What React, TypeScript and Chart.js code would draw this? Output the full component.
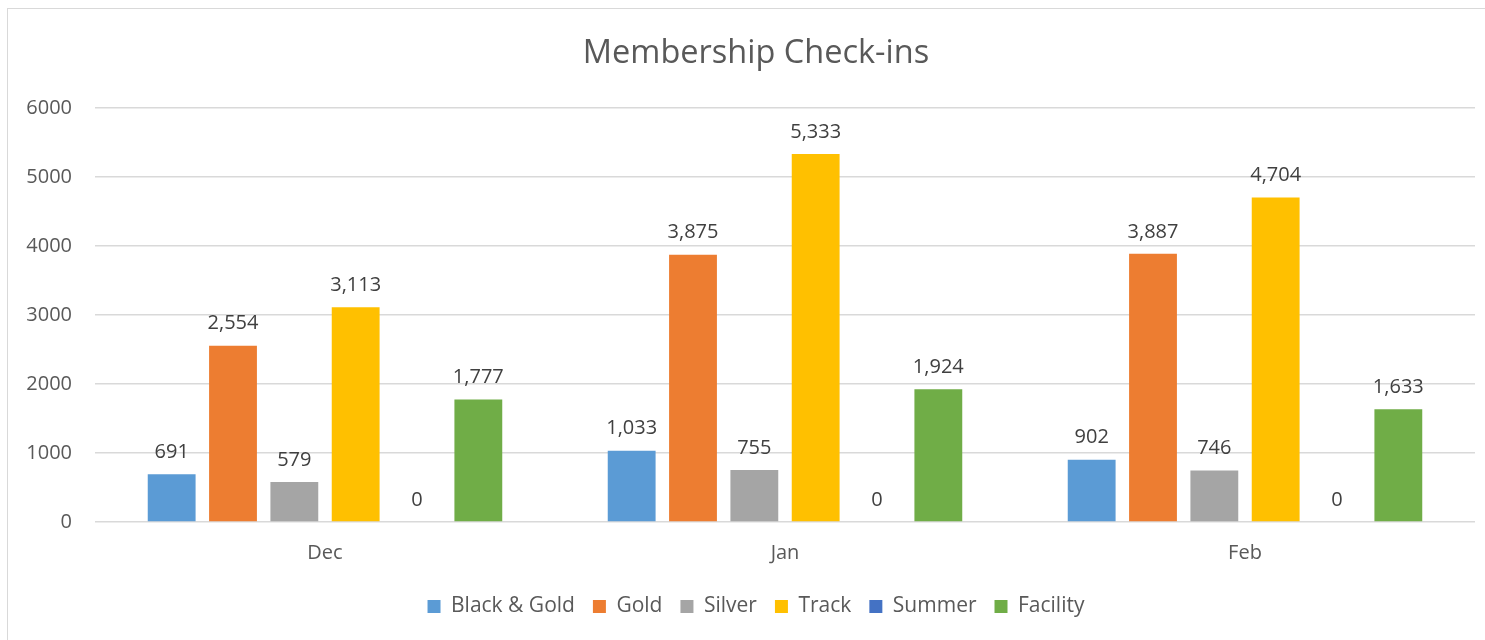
import React, { useEffect, useRef } from "react";
import { Chart, registerables } from "chart.js";

Chart.register(...registerables);

const categories = ["Dec", "Jan", "Feb"];
const seriesNames = ["Black & Gold", "Gold", "Silver", "Track", "Summer", "Facility"];
const blackGold = [691, 1033, 902];
const gold = [2554, 3875, 3887];
const silver = [579, 755, 746];
const track = [3113, 5333, 4704];
const summer = [0, 0, 0];
const facility = [1777, 1924, 1633];
const seriesColors = ["#5b9bd5", "#ed7d31", "#a5a5a5", "#ffc000", "#4472c4", "#70ad47"];
const yTicks = [0, 1000, 2000, 3000, 4000, 5000, 6000];

const FONT = "'Open Sans', sans-serif";

const dataLabels = {
  id: "dataLabels",
  afterDatasetsDraw(chart: any) {
    const ctx = chart.ctx;
    ctx.save();
    ctx.font = `20px ${FONT}`;
    ctx.fillStyle = "#404040";
    ctx.textAlign = "center";
    ctx.textBaseline = "bottom";
    chart.data.datasets.forEach((ds: any, i: number) => {
      const meta = chart.getDatasetMeta(i);
      meta.data.forEach((el: any, j: number) => {
        const v = ds.data[j];
        ctx.fillText(Number(v).toLocaleString("en-US"), el.x, el.y - 12);
      });
    });
    ctx.restore();
  },
};

// let the y tick labels use the space left of the (narrow) axis box
const widenYClip = {
  id: "widenYClip",
  afterLayout(chart: any) {
    const y = chart.scales.y;
    if (y) y.left = 0;
  },
};

export default function App() {
  const ref = useRef<HTMLCanvasElement>(null);
  useEffect(() => {
    if (!ref.current) return;
    const all = [blackGold, gold, silver, track, summer, facility];
    const chart = new Chart(ref.current, {
      type: "bar",
      data: {
        labels: categories,
        datasets: all.map((d, i) => ({
          label: seriesNames[i],
          data: d,
          backgroundColor: seriesColors[i],
          borderWidth: 0,
          categoryPercentage: 0.8,
          barPercentage: 0.78,
        })),
      },
      options: {
        animation: false,
        responsive: false,
        maintainAspectRatio: false,
        layout: { padding: { left: 37, right: 37, top: 34, bottom: 0 } },
        plugins: {
          title: {
            display: true,
            text: "Membership Check-ins",
            color: "#595959",
            font: { family: FONT, size: 32.5, weight: "normal" },
            padding: { top: 0, bottom: 35 },
          },
          legend: {
            position: "bottom",
            labels: {
              color: "#595959",
              font: { family: FONT, size: 21 },
              boxWidth: 13,
              boxHeight: 13,
              padding: 18,
            },
          },
          tooltip: { enabled: false },
        },
        scales: {
          x: {
            grid: { display: false },
            border: { display: false },
            ticks: { color: "#595959", font: { family: FONT, size: 20 }, padding: 11 },
            afterFit: (axis: any) => {
              axis.height = axis.height + 2;
            },
          },
          y: {
            min: 0,
            max: 6000,
            afterBuildTicks: (axis: any) => {
              axis.ticks = yTicks.map((v) => ({ value: v }));
            },
            afterFit: (axis: any) => {
              axis.width = 58;
            },
            grid: { color: "#d9d9d9", lineWidth: 1.5, drawTicks: false },
            border: { display: false },
            ticks: {
              color: "#595959",
              font: { family: FONT, size: 20 },
              padding: 23,
              callback: (v: any) => String(v),
            },
          },
        },
      },
      plugins: [dataLabels, widenYClip],
    });
    return () => chart.destroy();
  }, []);
  return (
    <div style={{ position: "absolute", left: 0, top: 0, width: 1485, height: 640, overflow: "hidden", background: "#fff" }}>
      <div style={{ position: "absolute", left: 7, top: 8, width: 1500, height: 700, border: "1.5px solid #d9d9d9", boxSizing: "border-box" }} />
      <canvas ref={ref} width={1512} height={627} style={{ position: "absolute", left: 0, top: 0 }} />
    </div>
  );
}
